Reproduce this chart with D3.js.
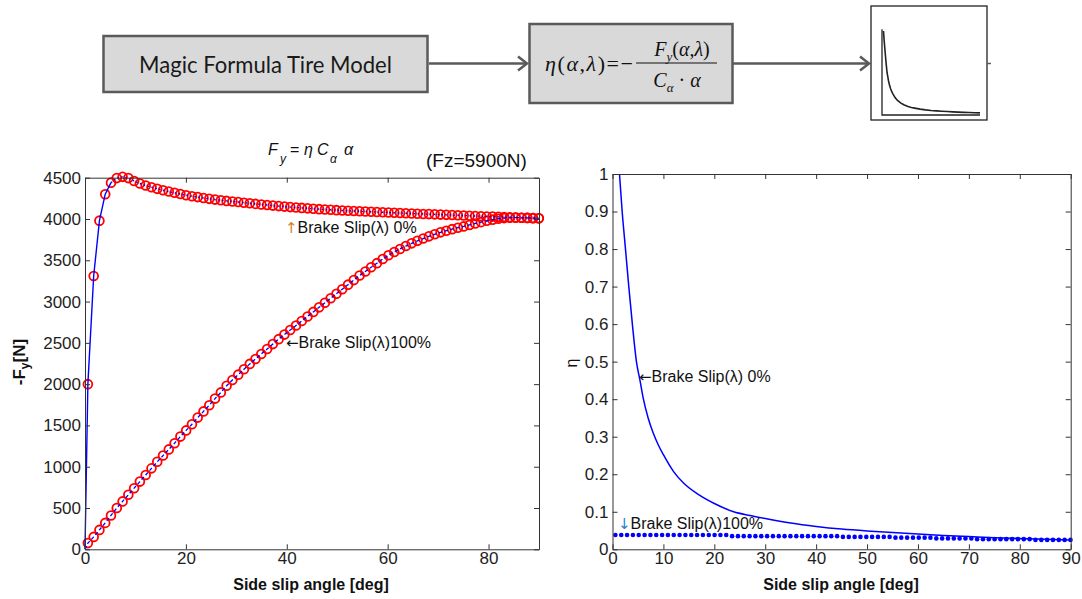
<!DOCTYPE html>
<html>
<head>
<meta charset="utf-8">
<script src="https://cdn.jsdelivr.net/npm/d3@7"></script>
<style>
  body { margin: 0; background: #fff; }
  svg { display: block; }
</style>
</head>
<body>
<div id="chart"></div>
<script>
// side slip angle grid [deg]
const alpha = [0.57, 1.72, 2.86, 4.01, 5.15, 6.30, 7.45, 8.59, 9.74, 10.88,
  12.03, 13.18, 14.32, 15.47, 16.61, 17.76, 18.91, 20.05, 21.20, 22.34,
  23.49, 24.64, 25.78, 26.93, 28.07, 29.22, 30.37, 31.51, 32.66, 33.80,
  34.95, 36.10, 37.24, 38.39, 39.53, 40.68, 41.83, 42.97, 44.12, 45.26,
  46.41, 47.56, 48.70, 49.85, 50.99, 52.14, 53.29, 54.43, 55.58, 56.72,
  57.87, 59.02, 60.16, 61.31, 62.45, 63.60, 64.75, 65.89, 67.04, 68.18,
  69.33, 70.48, 71.62, 72.77, 73.91, 75.06, 76.21, 77.35, 78.50, 79.64,
  80.79, 81.94, 83.08, 84.23, 85.37, 86.52, 87.67, 88.81, 89.96];

// -Fy [N], brake slip 0%
const fyBrake0 = [2000, 3310, 3980, 4300, 4440, 4495, 4510, 4495, 4460, 4430,
  4405, 4385, 4365, 4348, 4332, 4317, 4302, 4288, 4276, 4265,
  4254, 4244, 4235, 4227, 4219, 4212, 4205, 4197, 4190, 4183,
  4176, 4169, 4162, 4156, 4150, 4144, 4139, 4134, 4129, 4124,
  4119, 4115, 4111, 4107, 4103, 4099, 4096, 4093, 4090, 4087,
  4084, 4081, 4078, 4075, 4072, 4070, 4067, 4064, 4061, 4059,
  4056, 4053, 4050, 4048, 4045, 4042, 4040, 4037, 4034, 4031,
  4029, 4026, 4023, 4021, 4018, 4015, 4013, 4010, 4008];

// -Fy [N], brake slip 100%
const fyBrake100 = [75, 150, 235, 320, 410, 500, 580, 660, 740, 820,
  900, 980, 1060, 1135, 1210, 1285, 1365, 1440, 1515, 1595,
  1670, 1745, 1825, 1900, 1980, 2050, 2115, 2180, 2245, 2305,
  2365, 2425, 2485, 2545, 2600, 2655, 2710, 2765, 2820, 2875,
  2930, 2985, 3040, 3095, 3150, 3205, 3260, 3315, 3365, 3415,
  3465, 3515, 3560, 3600, 3637, 3672, 3705, 3735, 3763, 3790,
  3815, 3838, 3858, 3877, 3894, 3910, 3928, 3946, 3962, 3978,
  3992, 4003, 4011, 4015, 4016, 4015, 4013, 4011, 4009];

// eta, brake slip 100% (same alpha grid)
const etaBrake100 = [0.038, 0.038, 0.038, 0.038, 0.038, 0.038, 0.038, 0.038, 0.038, 0.038,
  0.038, 0.038, 0.038, 0.038, 0.038, 0.038, 0.038, 0.038, 0.038, 0.038,
  0.035, 0.035, 0.035, 0.035, 0.035, 0.035, 0.035, 0.035, 0.035, 0.035,
  0.035, 0.035, 0.035, 0.035, 0.035, 0.035, 0.035, 0.035, 0.035, 0.033,
  0.033, 0.033, 0.033, 0.033, 0.033, 0.033, 0.033, 0.033, 0.031, 0.031,
  0.031, 0.031, 0.031, 0.031, 0.031, 0.029, 0.029, 0.029, 0.029, 0.029,
  0.029, 0.029, 0.027, 0.027, 0.027, 0.027, 0.027, 0.027, 0.027, 0.027,
  0.027, 0.027, 0.025, 0.025, 0.025, 0.025, 0.025, 0.025, 0.025];

// eta, brake slip 0% (solid line)
const etaAlpha0 = [1.37, 1.9, 2.55, 3.2, 3.9, 4.7, 5.4, 6.0, 7.0, 8.0,
  9.0, 10, 12, 14, 17, 20, 23.8, 27, 30, 35,
  40, 45, 50, 55, 60, 65, 70, 75, 80, 85, 90];
const etaBrake0 = [1.0, 0.9, 0.8, 0.7, 0.6, 0.5, 0.45, 0.405, 0.35, 0.31,
  0.278, 0.252, 0.207, 0.176, 0.145, 0.122, 0.1, 0.09, 0.082, 0.07,
  0.061, 0.054, 0.049, 0.045, 0.041, 0.037, 0.034, 0.031, 0.029, 0.027, 0.025];

const xTicksLeft = [0, 20, 40, 60, 80];
const yTicksLeft = [0, 500, 1000, 1500, 2000, 2500, 3000, 3500, 4000, 4500];
const xTicksRight = [0, 10, 20, 30, 40, 50, 60, 70, 80, 90];
const yTicksRight = [0, 0.1, 0.2, 0.3, 0.4, 0.5, 0.6, 0.7, 0.8, 0.9, 1];

const width = 1082;
const height = 599;
const sans = "'Liberation Sans', Arial, sans-serif";
const serif = "'Liberation Serif', 'Times New Roman', serif";
const boxStroke = "#5a5a5a";

const svg = d3.select("#chart")
  .append("svg")
  .attr("width", width)
  .attr("height", height);

// ---------- block diagram on top ----------
const marker = (x, y) => `M${x - 9},${y - 7}L${x},${y}L${x - 9},${y + 7}`;

svg.append("rect")
  .attr("x", 103.5).attr("y", 36).attr("width", 324).attr("height", 56)
  .attr("fill", "#d9d9d9").attr("stroke", boxStroke).attr("stroke-width", 2.5);
svg.append("text")
  .attr("x", 265.5).attr("y", 72.5)
  .attr("text-anchor", "middle")
  .attr("textLength", 253).attr("lengthAdjust", "spacingAndGlyphs")
  .style("font-family", "Lato, 'Open Sans', sans-serif")
  .style("font-size", "23px")
  .attr("fill", "#1a1a1a")
  .text("Magic Formula Tire Model");

svg.append("line").attr("x1", 429).attr("x2", 527).attr("y1", 63.5).attr("y2", 63.5)
  .attr("stroke", boxStroke).attr("stroke-width", 2.5);
svg.append("path").attr("d", marker(527, 63.5))
  .attr("fill", "none").attr("stroke", boxStroke).attr("stroke-width", 2.5);

svg.append("rect")
  .attr("x", 529.5).attr("y", 24).attr("width", 203).attr("height", 79)
  .attr("fill", "#d9d9d9").attr("stroke", boxStroke).attr("stroke-width", 2.5);

const eq = svg.append("g").style("font-family", serif).attr("fill", "#111");
const lhs = eq.append("text").attr("x", 545).attr("y", 71).style("font-size", "22px")
  .attr("textLength", 88).attr("lengthAdjust", "spacing");
lhs.append("tspan").style("font-style", "italic").text("η");
lhs.append("tspan").text("(");
lhs.append("tspan").style("font-style", "italic").text("α");
lhs.append("tspan").text(",");
lhs.append("tspan").style("font-style", "italic").text("λ");
lhs.append("tspan").text(")=−");
eq.append("line").attr("x1", 636).attr("x2", 717).attr("y1", 63).attr("y2", 63)
  .attr("stroke", "#111").attr("stroke-width", 1.2);
const num = eq.append("text").attr("x", 682).attr("y", 56).attr("text-anchor", "middle").style("font-size", "20px");
num.append("tspan").style("font-style", "italic").text("F");
num.append("tspan").attr("dy", 5).style("font-size", "13px").style("font-style", "italic").text("y");
num.append("tspan").attr("dy", -5).text("(");
num.append("tspan").style("font-style", "italic").text("α");
num.append("tspan").text(",");
num.append("tspan").style("font-style", "italic").text("λ");
num.append("tspan").text(")");
const den = eq.append("text").attr("x", 677).attr("y", 87).attr("text-anchor", "middle").style("font-size", "20px");
den.append("tspan").style("font-style", "italic").text("C");
den.append("tspan").attr("dy", 5).style("font-size", "13px").style("font-style", "italic").text("α");
den.append("tspan").attr("dy", -5).text(" · ");
den.append("tspan").style("font-style", "italic").text("α");

svg.append("line").attr("x1", 733).attr("x2", 869).attr("y1", 63.5).attr("y2", 63.5)
  .attr("stroke", boxStroke).attr("stroke-width", 2.5);
svg.append("path").attr("d", marker(869, 63.5))
  .attr("fill", "none").attr("stroke", boxStroke).attr("stroke-width", 2.5);

// small thumbnail of the eta curve
svg.append("rect")
  .attr("x", 871).attr("y", 6).attr("width", 116).attr("height", 114)
  .attr("fill", "#fff").attr("stroke", "#222").attr("stroke-width", 1.3);
svg.append("line").attr("x1", 987).attr("x2", 991).attr("y1", 63.5).attr("y2", 63.5)
  .attr("stroke", boxStroke).attr("stroke-width", 1.5);
const xMini = d3.scaleLinear().domain([0, 90]).range([882, 980]);
const yMini = d3.scaleLinear().domain([0, 1]).range([115, 31]);
svg.append("path")
  .attr("d", `M${xMini(0)},${yMini(1.02)}V${yMini(0)}H${xMini(90)}`)
  .attr("fill", "none").attr("stroke", "#222").attr("stroke-width", 1.3);
svg.append("path")
  .datum(d3.zip(etaAlpha0, etaBrake0))
  .attr("d", d3.line().x(d => xMini(d[0])).y(d => yMini(d[1])))
  .attr("fill", "none").attr("stroke", "#222").attr("stroke-width", 1.6);

// ---------- plotting helpers ----------
function frame(x, y, xt, yt) {
  const [x0, x1] = x.range();
  const [y0, y1] = y.range();
  const style = g => {
    g.attr("font-size", 17).attr("font-family", sans);
    g.selectAll(".domain").attr("stroke", "#333");
    g.selectAll(".tick line").attr("stroke", "#333");
    g.selectAll(".tick text").attr("fill", "#1e1e1e");
  };
  svg.append("g").attr("transform", `translate(0,${y0})`)
    .call(d3.axisBottom(x).tickValues(xt).tickSize(-5).tickSizeOuter(0).tickPadding(3))
    .call(style);
  svg.append("g").attr("transform", `translate(0,${y1})`)
    .call(d3.axisTop(x).tickValues(xt).tickSize(-5).tickSizeOuter(0).tickFormat(""))
    .call(style);
  svg.append("g").attr("transform", `translate(${x0},0)`)
    .call(d3.axisLeft(y).tickValues(yt).tickSize(-5).tickSizeOuter(0).tickPadding(4).tickFormat(d => String(d)))
    .call(style);
  svg.append("g").attr("transform", `translate(${x1},0)`)
    .call(d3.axisRight(y).tickValues(yt).tickSize(-5).tickSizeOuter(0).tickFormat(""))
    .call(style);
}

function annotate(x, y, arrow, arrowColor, label) {
  const t = svg.append("text").attr("x", x).attr("y", y)
    .style("font-family", sans).style("font-size", "16px").attr("fill", "#111");
  t.append("tspan").attr("fill", arrowColor)
    .style("font-family", "'DejaVu Sans', sans-serif").style("font-size", "15px")
    .text(arrow);
  t.append("tspan").text(label);
}

// ---------- left plot: -Fy vs side slip ----------
const xL = d3.scaleLinear().domain([0, 90]).range([85, 539]);
const yL = d3.scaleLinear().domain([0, 4500]).range([549.3, 177.7]);

const fy0 = d3.zip(alpha, fyBrake0);
const fy100 = d3.zip(alpha, fyBrake100);
const lineL = d3.line().x(d => xL(d[0])).y(d => yL(d[1]));

svg.append("g").selectAll("circle")
  .data(fy0.concat(fy100))
  .join("circle")
  .attr("cx", d => xL(d[0]))
  .attr("cy", d => yL(d[1]))
  .attr("r", 4.4)
  .attr("fill", "none")
  .attr("stroke", "#ff0000")
  .attr("stroke-width", 1.8);

// model passes through the origin
svg.append("path")
  .datum([[0, 0]].concat(fy0.slice(0, 5)))
  .attr("d", lineL)
  .attr("fill", "none").attr("stroke", "#0000ff").attr("stroke-width", 1.4);
svg.append("path")
  .datum(fy0.slice(4))
  .attr("d", lineL)
  .attr("fill", "none").attr("stroke", "#0000ff").attr("stroke-width", 1.4)
  .attr("stroke-dasharray", "1.5,2.5");
svg.append("path")
  .datum([[0, 0]].concat(fy100))
  .attr("d", lineL)
  .attr("fill", "none").attr("stroke", "#0000ff").attr("stroke-width", 1.3)
  .attr("stroke-dasharray", "3.5,2.5");

frame(xL, yL, xTicksLeft, yTicksLeft);

const titleL = svg.append("text").attr("y", 155)
  .style("font-family", sans).style("font-size", "16px").attr("fill", "#111");
titleL.append("tspan").attr("x", 268).style("font-style", "italic").text("F");
titleL.append("tspan").attr("x", 280).attr("dy", 8).style("font-size", "12px").style("font-style", "italic").text("y");
titleL.append("tspan").attr("x", 290).attr("dy", -8).text("=");
titleL.append("tspan").attr("x", 304).style("font-style", "italic").text("η");
titleL.append("tspan").attr("x", 317).style("font-style", "italic").text("C");
titleL.append("tspan").attr("x", 330).attr("dy", 8).style("font-size", "12px").style("font-style", "italic").text("α");
titleL.append("tspan").attr("x", 344).attr("dy", -8).style("font-style", "italic").text("α");

svg.append("text").attr("x", 426).attr("y", 167)
  .style("font-family", sans).style("font-size", "19px").attr("fill", "#111")
  .text("(Fz=5900N)");

const yTitleL = svg.append("text")
  .attr("transform", "translate(25,362) rotate(-90)")
  .attr("text-anchor", "middle")
  .style("font-family", sans).style("font-size", "17px").style("font-weight", "bold").attr("fill", "#111");
yTitleL.append("tspan").text("-F");
yTitleL.append("tspan").attr("dy", 4).style("font-size", "12px").text("y");
yTitleL.append("tspan").attr("dy", -4).text("[N]");

svg.append("text").attr("x", 311).attr("y", 590)
  .attr("text-anchor", "middle")
  .style("font-family", sans).style("font-size", "16px").style("font-weight", "bold").attr("fill", "#111")
  .text("Side slip angle [deg]");

annotate(285, 233, "↑", "#d2802a", "Brake Slip(λ) 0%");
annotate(286, 348, "←", "#111", "Brake Slip(λ)100%");

// ---------- right plot: eta vs side slip ----------
const xR = d3.scaleLinear().domain([0, 90]).range([612.5, 1070.7]);
const yR = d3.scaleLinear().domain([0, 1]).range([549.3, 174]);

svg.append("path")
  .datum(d3.zip(etaAlpha0, etaBrake0))
  .attr("d", d3.line().curve(d3.curveMonotoneX).x(d => xR(d[0])).y(d => yR(d[1])))
  .attr("fill", "none").attr("stroke", "#0000ff").attr("stroke-width", 1.5);

svg.append("g").selectAll("circle")
  .data(d3.zip(alpha, etaBrake100))
  .join("circle")
  .attr("cx", d => xR(d[0]))
  .attr("cy", d => yR(d[1]))
  .attr("r", 2.3)
  .attr("fill", "#0000ff");

frame(xR, yR, xTicksRight, yTicksRight);

svg.append("text")
  .attr("transform", "translate(577,363) rotate(-90)")
  .attr("text-anchor", "middle")
  .style("font-family", sans).style("font-size", "16px").attr("fill", "#111")
  .text("η");

svg.append("text").attr("x", 841).attr("y", 590)
  .attr("text-anchor", "middle")
  .style("font-family", sans).style("font-size", "16px").style("font-weight", "bold").attr("fill", "#111")
  .text("Side slip angle [deg]");

annotate(639, 382, "←", "#111", "Brake Slip(λ) 0%");
annotate(618, 529, "↓", "#2b83c6", "Brake Slip(λ)100%");
</script>
</body>
</html>
